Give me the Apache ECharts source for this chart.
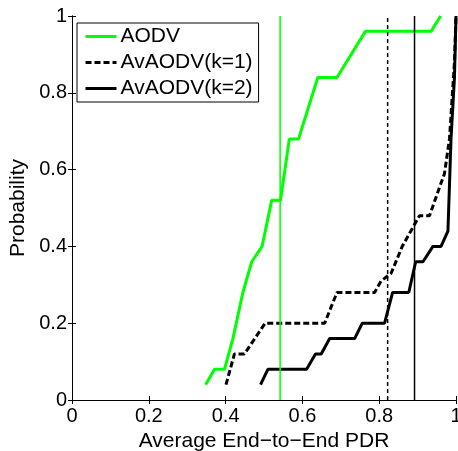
<!DOCTYPE html>
<html>
<head>
<meta charset="utf-8">
<script src="https://cdn.jsdelivr.net/npm/echarts@6/dist/echarts.min.js"></script>
<style>
html,body{margin:0;padding:0;background:#fff;overflow:hidden;}
#c{width:458px;height:451px;}
</style>
</head>
<body>
<div id="c"></div>
<script>
// Data
const seriesNames = ['AODV', 'AvAODV(k=1)', 'AvAODV(k=2)'];
const aodvX = [0.348, 0.371, 0.397, 0.419, 0.445, 0.468, 0.495, 0.520, 0.543, 0.566, 0.590, 0.640, 0.690, 0.764, 0.935, 0.960];
const aodvY = [0.04, 0.08, 0.08, 0.16, 0.28, 0.36, 0.40, 0.52, 0.52, 0.68, 0.68, 0.84, 0.84, 0.96, 0.96, 1.0];
const k1X = [0.401, 0.423, 0.449, 0.503, 0.658, 0.690, 0.788, 0.805, 0.831, 0.860, 0.888, 0.905, 0.931, 0.970, 0.983, 0.996, 1.0];
const k1Y = [0.04, 0.12, 0.12, 0.20, 0.20, 0.28, 0.28, 0.31, 0.33, 0.40, 0.45, 0.48, 0.48, 0.59, 0.68, 0.88, 1.0];
const k2X = [0.491, 0.510, 0.611, 0.634, 0.649, 0.671, 0.736, 0.756, 0.814, 0.835, 0.877, 0.895, 0.914, 0.940, 0.961, 0.979, 0.987, 0.996, 1.0];
const k2Y = [0.04, 0.08, 0.08, 0.12, 0.12, 0.16, 0.16, 0.20, 0.20, 0.28, 0.28, 0.36, 0.36, 0.40, 0.40, 0.44, 0.68, 0.84, 1.0];
const meanPdr = [0.542, 0.822, 0.892];
const xTicks = [0, 0.2, 0.4, 0.6, 0.8, 1];
const yTicks = [0, 0.2, 0.4, 0.6, 0.8, 1];

const FONT = 'Liberation Sans, Arial, sans-serif';
const zip = (xs, ys) => xs.map((x, i) => [x, ys[i]]);
const colors = ['#00ff00', '#000000', '#000000'];
const dashes = ['solid', [6, 3], 'solid'];
const vDashes = ['solid', [4, 3], 'solid'];

const chart = echarts.init(document.getElementById('c'), null, {renderer: 'canvas'});

const cdfSeries = [zip(aodvX, aodvY), zip(k1X, k1Y), zip(k2X, k2Y)].map((d, i) => ({
  name: seriesNames[i],
  type: 'line',
  data: d,
  symbol: 'none',
  smooth: false,
  z: 2,
  lineStyle: {color: colors[i], width: 3, type: dashes[i]},
  itemStyle: {color: colors[i]},
  animation: false
}));

const meanSeries = meanPdr.map((m, i) => ({
  name: 'mean' + i,
  type: 'line',
  data: [[m, yTicks[0]], [m, yTicks[yTicks.length - 1]]],
  symbol: 'none',
  z: 3,
  lineStyle: {color: colors[i], width: 1.5, type: vDashes[i]},
  animation: false,
  silent: true
}));

const axisCommon = {
  type: 'value',
  min: xTicks[0],
  max: xTicks[xTicks.length - 1],
  interval: 0.2,
  splitLine: {show: false},
  axisLine: {show: true, lineStyle: {color: '#000', width: 1}},
  axisTick: {show: true, inside: true, length: 4, lineStyle: {color: '#000', width: 1}}
};

chart.setOption({
  animation: false,
  backgroundColor: '#fff',
  grid: {left: 72, top: 16, width: 384, height: 384, containLabel: false, outerBoundsMode: 'none'},
  legend: {
    data: seriesNames,
    orient: 'vertical',
    left: 77,
    top: 23,
    itemWidth: 31,
    itemHeight: 20,
    itemGap: 5,
    padding: [3, 6, 3, 7],
    borderColor: '#000',
    borderWidth: 1,
    backgroundColor: '#fff',
    borderRadius: 0,
    itemStyle: {opacity: 0},
    lineStyle: {width: 3},
    textStyle: {fontFamily: FONT, fontSize: 21, color: '#000', padding: [0, 0, 0, -1]}
  },
  xAxis: [
    Object.assign({}, axisCommon, {
      position: 'bottom',
      name: 'Average End\u2212to\u2212End PDR',
      nameLocation: 'middle',
      nameGap: 28,
      nameTextStyle: {fontFamily: FONT, fontSize: 21, color: '#000'},
      axisLabel: {show: true, margin: 6, fontFamily: FONT, fontSize: 20, color: '#000'}
    }),
    Object.assign({}, axisCommon, {position: 'top', axisLabel: {show: false}})
  ],
  yAxis: [
    Object.assign({}, axisCommon, {
      min: yTicks[0], max: yTicks[yTicks.length - 1],
      position: 'left',
      name: 'Probability',
      nameLocation: 'middle',
      nameGap: 37,
      nameTextStyle: {fontFamily: FONT, fontSize: 21, color: '#000'},
      axisLabel: {show: true, margin: 5, fontFamily: FONT, fontSize: 20, color: '#000'}
    }),
    Object.assign({}, axisCommon, {min: yTicks[0], max: yTicks[yTicks.length - 1], position: 'right', axisLabel: {show: false}})
  ],
  series: cdfSeries.concat(meanSeries)
});
</script>
</body>
</html>
